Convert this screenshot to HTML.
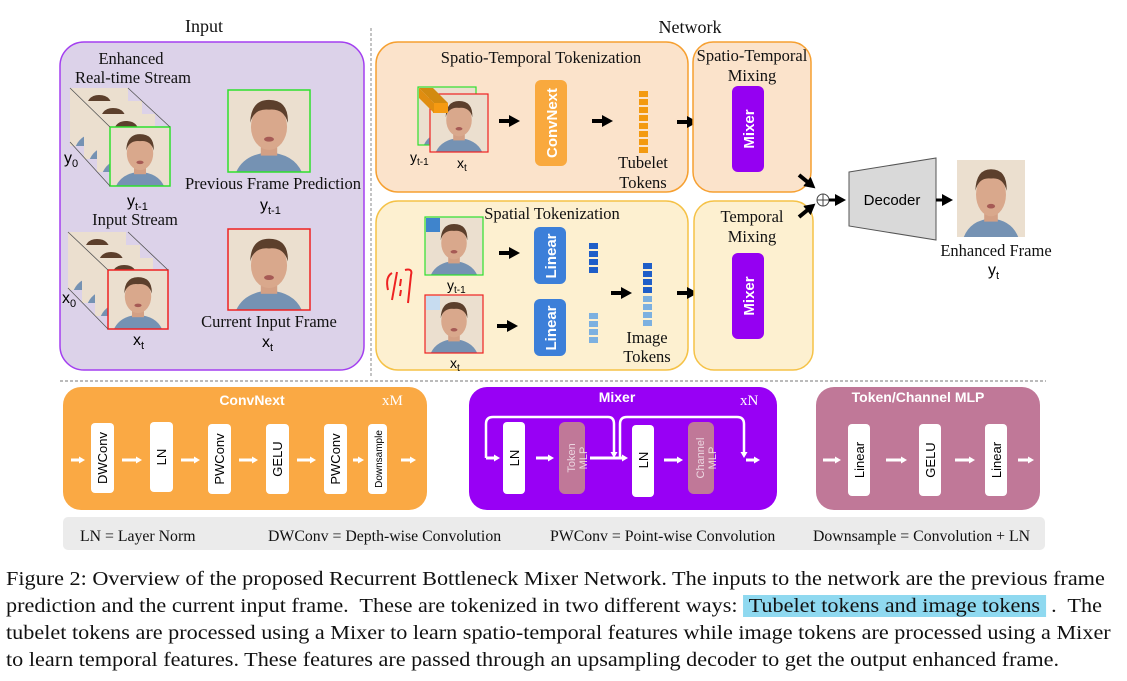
<!DOCTYPE html>
<html><head><meta charset="utf-8"><style>
body{margin:0;background:#fff;width:1127px;height:681px;overflow:hidden;position:relative}
svg{display:block}
.t{font-family:"Liberation Serif",serif;fill:#111}
.s{font-family:"Liberation Sans",sans-serif;font-weight:bold}
.cap{position:absolute;left:6px;font-family:"Liberation Serif",serif;font-size:20px;color:#111;white-space:nowrap;transform-origin:0 0;transform:scaleX(1.11)}
</style></head><body>
<svg width="1127" height="681" viewBox="0 0 1127 681">
<defs>
<symbol id="face" viewBox="0 0 100 100" preserveAspectRatio="none">
<rect width="100" height="100" fill="#ebdfcf"/>
<path d="M10 100 Q20 78 50 76 Q80 78 90 100Z" fill="#7592b3"/>
<rect x="40" y="60" width="20" height="20" fill="#d3a085"/>
<ellipse cx="50" cy="45" rx="22" ry="28" fill="#d9a88c"/>
<path d="M27 40 Q28 12 50 12 Q74 12 73 40 Q68 22 50 24 Q32 22 27 40Z" fill="#5c3f2c"/>
<ellipse cx="50" cy="60" rx="6" ry="3" fill="#a65a55"/>
</symbol>
<marker id="ah" markerUnits="userSpaceOnUse" markerWidth="11" markerHeight="12" refX="4" refY="6" orient="auto"><path d="M0 0L11 6L0 12Z" fill="#000"/></marker>
<marker id="wh" markerUnits="userSpaceOnUse" markerWidth="6" markerHeight="7" refX="2" refY="3.5" orient="auto"><path d="M0 0L6 3.5L0 7Z" fill="#fff"/></marker>
</defs>

<!-- Input -->
<text x="204" y="32" class="t" font-size="18" text-anchor="middle">Input</text>
<rect x="60" y="42" width="304" height="328" rx="24" fill="#dcd2e9" stroke="#a33ff0" stroke-width="1.5"/>
<text x="131" y="64" class="t" font-size="16.5" text-anchor="middle">Enhanced</text>
<text x="133" y="83" class="t" font-size="16.5" text-anchor="middle">Real-time Stream</text>
<use href="#face" x="70" y="88" width="58" height="58"/>
<use href="#face" x="84" y="101" width="58" height="58"/>
<use href="#face" x="97" y="114" width="58" height="58"/>
<use href="#face" x="110" y="127" width="60" height="59"/>
<rect x="110" y="127" width="60" height="59" fill="none" stroke="#2ee02e" stroke-width="1.5"/>
<g stroke="#555" stroke-width="0.8">
<line x1="70" y1="88" x2="110" y2="127"/><line x1="70" y1="142" x2="110" y2="186"/><line x1="128" y1="88" x2="170" y2="127"/>
</g>
<text x="64" y="163" class="s" font-size="16" style="font-weight:normal">y<tspan font-size="11" dy="4">0</tspan></text>
<text x="127" y="206" class="s" font-size="16" style="font-weight:normal">y<tspan font-size="11" dy="4">t-1</tspan></text>
<use href="#face" x="228" y="90" width="82" height="82"/>
<rect x="228" y="90" width="82" height="82" fill="none" stroke="#2ee02e" stroke-width="1.5"/>
<text x="273" y="189" class="t" font-size="16.5" text-anchor="middle">Previous Frame Prediction</text>
<text x="260" y="210" class="s" font-size="16" style="font-weight:normal">y<tspan font-size="11" dy="4">t-1</tspan></text>
<text x="135" y="225" class="t" font-size="16.5" text-anchor="middle">Input Stream</text>
<use href="#face" x="68" y="232" width="58" height="58"/>
<use href="#face" x="82" y="245" width="58" height="58"/>
<use href="#face" x="95" y="258" width="58" height="58"/>
<use href="#face" x="108" y="270" width="60" height="59"/>
<rect x="108" y="270" width="60" height="59" fill="none" stroke="#ee2222" stroke-width="1.5"/>
<g stroke="#555" stroke-width="0.8">
<line x1="68" y1="232" x2="108" y2="270"/><line x1="68" y1="288" x2="108" y2="329"/><line x1="128" y1="232" x2="168" y2="270"/>
</g>
<text x="62" y="303" class="s" font-size="16" style="font-weight:normal">x<tspan font-size="11" dy="4">0</tspan></text>
<text x="133" y="345" class="s" font-size="16" style="font-weight:normal">x<tspan font-size="11" dy="4">t</tspan></text>
<use href="#face" x="228" y="229" width="82" height="81"/>
<rect x="228" y="229" width="82" height="81" fill="none" stroke="#ee2222" stroke-width="1.5"/>
<text x="269" y="327" class="t" font-size="16.5" text-anchor="middle">Current Input Frame</text>
<text x="262" y="347" class="s" font-size="16" style="font-weight:normal">x<tspan font-size="11" dy="4">t</tspan></text>

<line x1="371" y1="28" x2="371" y2="376" stroke="#888" stroke-dasharray="3,2"/>
<text x="690" y="33" class="t" font-size="18" text-anchor="middle">Network</text>

<!-- ST tokenization -->
<rect x="376" y="42" width="312" height="150" rx="22" fill="#fbe3cb" stroke="#f6a031" stroke-width="1.5"/>
<text x="541" y="63" class="t" font-size="16.5" text-anchor="middle">Spatio-Temporal Tokenization</text>
<use href="#face" x="418" y="87" width="58" height="58"/>
<rect x="418" y="87" width="58" height="58" fill="none" stroke="#2ee02e" stroke-width="1.2"/>
<use href="#face" x="430" y="94" width="58" height="58"/>
<rect x="430" y="94" width="58" height="58" fill="none" stroke="#ee2222" stroke-width="1.2"/>
<path d="M419 88L433 88L448 103L434 103Z" fill="#d28a10"/><rect x="433" y="103" width="15" height="10" fill="#f59a12"/><path d="M419 88L434 103L434 113L419 98Z" fill="#e08d10"/>
<text x="410" y="162" class="s" font-size="14" style="font-weight:normal">y<tspan font-size="10" dy="3">t-1</tspan></text>
<text x="457" y="168" class="s" font-size="14" style="font-weight:normal">x<tspan font-size="10" dy="3">t</tspan></text>
<line x1="499" y1="121" x2="513" y2="121" stroke="#000" stroke-width="4" marker-end="url(#ah)"/>
<rect x="535" y="80" width="32" height="86" rx="6" fill="#f9a93e"/>
<text transform="translate(557,123) rotate(-90)" class="s" font-size="15" fill="#fff" text-anchor="middle">ConvNext</text>
<line x1="592" y1="121" x2="606" y2="121" stroke="#000" stroke-width="4" marker-end="url(#ah)"/>
<g fill="#f39a10">
<rect x="639" y="91" width="9" height="6"/><rect x="639" y="99" width="9" height="6"/><rect x="639" y="107" width="9" height="6"/><rect x="639" y="115" width="9" height="6"/><rect x="639" y="123" width="9" height="6"/><rect x="639" y="131" width="9" height="6"/><rect x="639" y="139" width="9" height="6"/><rect x="639" y="147" width="9" height="6"/>
</g>
<text x="643" y="168" class="t" font-size="16.5" text-anchor="middle">Tubelet</text>
<text x="643" y="188" class="t" font-size="16.5" text-anchor="middle">Tokens</text>
<line x1="677" y1="122" x2="691" y2="122" stroke="#000" stroke-width="4" marker-end="url(#ah)"/>
<rect x="693" y="42" width="118" height="150" rx="20" fill="#fbe3cb" stroke="#f6a031" stroke-width="1.5"/>
<text x="752" y="61" class="t" font-size="16.5" text-anchor="middle">Spatio-Temporal</text>
<text x="752" y="81" class="t" font-size="16.5" text-anchor="middle">Mixing</text>
<rect x="732" y="86" width="32" height="86" rx="6" fill="#9500f2"/>
<text transform="translate(754,129) rotate(-90)" class="s" font-size="15" fill="#fff" text-anchor="middle">Mixer</text>

<!-- Spatial tokenization -->
<rect x="376" y="201" width="312" height="169" rx="22" fill="#fdf0d0" stroke="#f5c247" stroke-width="1.5"/>
<text x="552" y="219" class="t" font-size="16.5" text-anchor="middle">Spatial Tokenization</text>
<use href="#face" x="425" y="217" width="58" height="58"/>
<rect x="425" y="217" width="58" height="58" fill="none" stroke="#2ee02e" stroke-width="1.2"/>
<rect x="426" y="218" width="14" height="14" fill="#3f84cc"/>
<text x="447" y="290" class="s" font-size="14" style="font-weight:normal">y<tspan font-size="10" dy="3">t-1</tspan></text>
<use href="#face" x="425" y="295" width="58" height="58"/>
<rect x="425" y="295" width="58" height="58" fill="none" stroke="#ee2222" stroke-width="1.2"/>
<rect x="426" y="296" width="14" height="14" fill="#c7dcf0"/>
<text x="450" y="368" class="s" font-size="14" style="font-weight:normal">x<tspan font-size="10" dy="3">t</tspan></text>
<path d="M388 290 Q385 277 392 273 M397 272 L392 300 M401 279 L400 286 M401 290 L400 296 M405 270 Q413 268 411 275 L408 303" stroke="#e22" stroke-width="2" fill="none"/>
<line x1="499" y1="253" x2="513" y2="253" stroke="#000" stroke-width="4" marker-end="url(#ah)"/>
<line x1="497" y1="326" x2="511" y2="326" stroke="#000" stroke-width="4" marker-end="url(#ah)"/>
<rect x="534" y="227" width="32" height="57" rx="6" fill="#3c7fd9"/>
<text transform="translate(556,256) rotate(-90)" class="s" font-size="15" fill="#fff" text-anchor="middle">Linear</text>
<rect x="534" y="299" width="32" height="57" rx="6" fill="#3c7fd9"/>
<text transform="translate(556,328) rotate(-90)" class="s" font-size="15" fill="#fff" text-anchor="middle">Linear</text>
<g fill="#1f5ec8"><rect x="589" y="243" width="9" height="6"/><rect x="589" y="251" width="9" height="6"/><rect x="589" y="259" width="9" height="6"/><rect x="589" y="267" width="9" height="6"/>
<rect x="643" y="263" width="9" height="6"/><rect x="643" y="271" width="9" height="6"/><rect x="643" y="279" width="9" height="6"/><rect x="643" y="287" width="9" height="6"/></g>
<g fill="#7cb0e0"><rect x="589" y="313" width="9" height="6"/><rect x="589" y="321" width="9" height="6"/><rect x="589" y="329" width="9" height="6"/><rect x="589" y="337" width="9" height="6"/>
<rect x="643" y="296" width="9" height="6"/><rect x="643" y="304" width="9" height="6"/><rect x="643" y="312" width="9" height="6"/><rect x="643" y="320" width="9" height="6"/></g>
<line x1="611" y1="293" x2="625" y2="293" stroke="#000" stroke-width="4" marker-end="url(#ah)"/>
<text x="647" y="343" class="t" font-size="16.5" text-anchor="middle">Image</text>
<text x="647" y="362" class="t" font-size="16.5" text-anchor="middle">Tokens</text>
<line x1="677" y1="293" x2="691" y2="293" stroke="#000" stroke-width="4" marker-end="url(#ah)"/>
<rect x="694" y="201" width="119" height="169" rx="20" fill="#fdf0d0" stroke="#f5c247" stroke-width="1.5"/>
<text x="752" y="222" class="t" font-size="16.5" text-anchor="middle">Temporal</text>
<text x="752" y="242" class="t" font-size="16.5" text-anchor="middle">Mixing</text>
<rect x="732" y="253" width="32" height="86" rx="6" fill="#9500f2"/>
<text transform="translate(754,296) rotate(-90)" class="s" font-size="15" fill="#fff" text-anchor="middle">Mixer</text>

<!-- decoder -->
<line x1="799" y1="175" x2="810" y2="184" stroke="#000" stroke-width="4" marker-end="url(#ah)"/>
<line x1="799" y1="217" x2="810" y2="208" stroke="#000" stroke-width="4" marker-end="url(#ah)"/>
<circle cx="823" cy="200" r="6" fill="#fff" stroke="#444"/>
<line x1="817" y1="200" x2="829" y2="200" stroke="#444"/><line x1="823" y1="194" x2="823" y2="206" stroke="#444"/>
<line x1="829" y1="200" x2="839" y2="200" stroke="#000" stroke-width="3" marker-end="url(#ah)"/>
<path d="M849 172 L936 158 L936 240 L849 226Z" fill="#d9d9d9" stroke="#555"/>
<text x="892" y="205" class="s" font-size="15" style="font-weight:normal" text-anchor="middle">Decoder</text>
<line x1="936" y1="200" x2="946" y2="200" stroke="#000" stroke-width="3" marker-end="url(#ah)"/>
<use href="#face" x="957" y="160" width="68" height="77"/>
<text x="996" y="256" class="t" font-size="16.5" text-anchor="middle">Enhanced Frame</text>
<text x="988" y="275" class="s" font-size="16" style="font-weight:normal">y<tspan font-size="11" dy="4">t</tspan></text>

<line x1="60" y1="381" x2="1046" y2="381" stroke="#777" stroke-dasharray="3,2"/>

<!-- ConvNext block -->
<rect x="63" y="387" width="364" height="123" rx="18" fill="#faa944"/>
<text x="252" y="405" class="s" font-size="14" fill="#fff" text-anchor="middle">ConvNext</text>
<text x="382" y="405" class="t" font-size="15" style="fill:#fff">xM</text>
<g fill="#fff">
<rect x="91" y="423" width="23" height="70" rx="4"/><rect x="150" y="422" width="23" height="70" rx="4"/><rect x="208" y="424" width="23" height="70" rx="4"/><rect x="266" y="424" width="23" height="70" rx="4"/><rect x="324" y="424" width="23" height="70" rx="4"/><rect x="368" y="424" width="19" height="70" rx="4"/>
</g>
<g class="s" font-size="13" fill="#000" style="font-weight:normal" text-anchor="middle">
<text transform="translate(107,458) rotate(-90)">DWConv</text>
<text transform="translate(166,457) rotate(-90)">LN</text>
<text transform="translate(224,459) rotate(-90)">PWConv</text>
<text transform="translate(282,459) rotate(-90)">GELU</text>
<text transform="translate(340,459) rotate(-90)">PWConv</text>
<text transform="translate(382,459) rotate(-90)" font-size="10">Downsample</text>
</g>
<g stroke="#fff" stroke-width="3" marker-end="url(#wh)">
<line x1="71" y1="460" x2="81" y2="460"/><line x1="122" y1="460" x2="138" y2="460"/><line x1="181" y1="460" x2="196" y2="460"/><line x1="239" y1="460" x2="254" y2="460"/><line x1="297" y1="460" x2="312" y2="460"/><line x1="353" y1="460" x2="360" y2="460"/><line x1="401" y1="460" x2="412" y2="460"/>
</g>

<!-- Mixer block -->
<rect x="469" y="387" width="308" height="123" rx="18" fill="#9800f5"/>
<text x="617" y="402" class="s" font-size="14" fill="#fff" text-anchor="middle">Mixer</text>
<text x="740" y="405" class="t" font-size="15" style="fill:#fff">xN</text>
<rect x="503" y="422" width="22" height="72" rx="4" fill="#fff"/>
<rect x="559" y="422" width="26" height="72" rx="6" fill="#c07898"/>
<rect x="632" y="425" width="22" height="72" rx="4" fill="#fff"/>
<rect x="688" y="422" width="26" height="72" rx="6" fill="#c07898"/>
<g class="s" font-size="13" style="font-weight:normal" text-anchor="middle">
<text transform="translate(519,458) rotate(-90)" fill="#000">LN</text>
<text transform="translate(648,460) rotate(-90)" fill="#000">LN</text>
<text transform="translate(576,458) rotate(-90)" fill="#ecd6e0" font-size="11"><tspan x="0" dy="-1">Token</tspan><tspan x="0" dy="12">MLP</tspan></text>
<text transform="translate(705,458) rotate(-90)" fill="#ecd6e0" font-size="11"><tspan x="0" dy="-1">Channel</tspan><tspan x="0" dy="12">MLP</tspan></text>
</g>
<g stroke="#fff" stroke-width="2.5" fill="none">
<path d="M486 458 L486 424 Q486 417 493 417 L608 417 Q614 417 614 424 L614 454" marker-end="url(#wh)"/>
<path d="M620 458 L620 424 Q620 417 627 417 L737 417 Q744 417 744 424 L744 454" marker-end="url(#wh)"/>
</g>
<g stroke="#fff" stroke-width="3" marker-end="url(#wh)">
<line x1="486" y1="458" x2="496" y2="458"/><line x1="536" y1="458" x2="550" y2="458"/><line x1="590" y1="458" x2="624" y2="458"/><line x1="664" y1="460" x2="679" y2="460"/><line x1="746" y1="460" x2="756" y2="460"/>
</g>

<!-- MLP block -->
<rect x="816" y="387" width="224" height="123" rx="18" fill="#c07898"/>
<text x="918" y="402" class="s" font-size="14" fill="#fff" text-anchor="middle">Token/Channel MLP</text>
<g fill="#fff"><rect x="848" y="424" width="22" height="72" rx="4"/><rect x="919" y="424" width="22" height="72" rx="4"/><rect x="985" y="424" width="22" height="72" rx="4"/></g>
<g class="s" font-size="13" style="font-weight:normal" text-anchor="middle" fill="#000">
<text transform="translate(864,460) rotate(-90)">Linear</text>
<text transform="translate(935,460) rotate(-90)">GELU</text>
<text transform="translate(1001,460) rotate(-90)">Linear</text>
</g>
<g stroke="#fff" stroke-width="3" marker-end="url(#wh)">
<line x1="823" y1="460" x2="837" y2="460"/><line x1="886" y1="460" x2="903" y2="460"/><line x1="955" y1="460" x2="971" y2="460"/><line x1="1018" y1="460" x2="1030" y2="460"/>
</g>

<rect x="63" y="517" width="982" height="33" rx="5" fill="#ebebeb"/>
<g class="t" font-size="15.8">
<text x="80" y="541">LN = Layer Norm</text>
<text x="268" y="541">DWConv = Depth-wise Convolution</text>
<text x="550" y="541">PWConv = Point-wise Convolution</text>
<text x="813" y="541">Downsample = Convolution + LN</text>
</g>
</svg>
<div class="cap" style="top:568px">Figure 2: Overview of the proposed Recurrent Bottleneck Mixer Network. The inputs to the network are the previous frame</div>
<div class="cap" style="top:595px">prediction and the current input frame.&nbsp; These are tokenized in two different ways: <span style="background:#8fd9f0">&nbsp;Tubelet tokens and image tokens&nbsp;</span> .&nbsp; The</div>
<div class="cap" style="top:622px">tubelet tokens are processed using a Mixer to learn spatio-temporal features while image tokens are processed using a Mixer</div>
<div class="cap" style="top:649px">to learn temporal features. These features are passed through an upsampling decoder to get the output enhanced frame.</div>
</body></html>
